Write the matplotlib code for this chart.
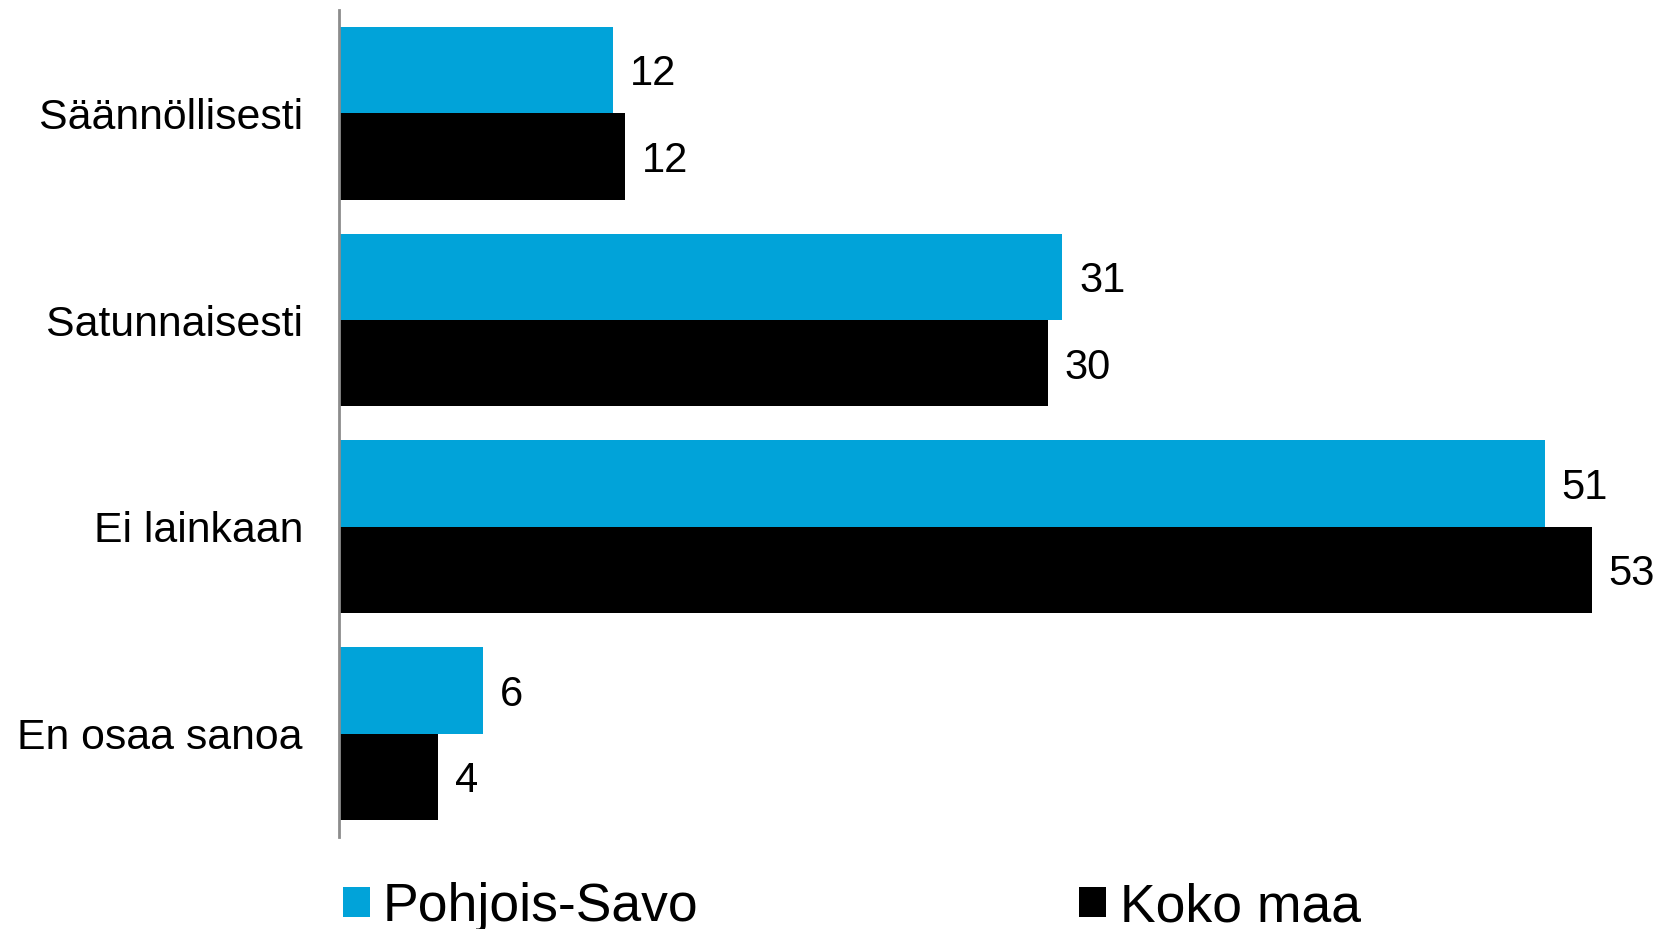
import matplotlib
matplotlib.use("Agg")
import matplotlib.pyplot as plt
import numpy as np

plt.rcParams['font.family'] = ['Liberation Sans', 'DejaVu Sans']

categories = ["Säännöllisesti", "Satunnaisesti", "Ei lainkaan", "En osaa sanoa"]
series_names = ["Pohjois-Savo", "Koko maa"]
pohjois_savo = [11.6, 30.6, 51.0, 6.1]
koko_maa = [12.1, 30.0, 53.0, 4.2]
labels_ps = ["12", "31", "51", "6"]
labels_km = ["12", "30", "53", "4"]

blue = "#01a3d9"
black = "#000000"

fig = plt.figure(figsize=(16.6, 9.291), dpi=100)
ax = fig.add_axes([339/1660, (929-837)/929, 1 - 339/1660, (837-10)/929])

y = np.arange(len(categories))
h = 0.418
b1 = ax.barh(y - h/2, pohjois_savo, height=h, color=blue, label=series_names[0])
b2 = ax.barh(y + h/2, koko_maa, height=h, color=black, label=series_names[1])

for bars, labs in ((b1, labels_ps), (b2, labels_km)):
    for t in ax.bar_label(bars, labels=labs, padding=12, fontsize=30):
        t.set_va('center')
        x0, y0 = t.xyann
        t.xyann = (x0, -3)

ax.set_ylim(3.5, -0.5)
ax.set_xlim(0, (1660-339)/23.64)
ax.set_yticks(y)
ax.set_yticklabels(categories, fontsize=30.8)
ax.tick_params(axis='y', length=0, pad=26)
ax.set_xticks([])
for s in ['top', 'right', 'bottom']:
    ax.spines[s].set_visible(False)
ax.spines['left'].set_color('#8c8c8c')
ax.spines['left'].set_linewidth(2)

leg = fig.legend(handles=[b1, b2], labels=series_names, loc='upper left',
                 bbox_to_anchor=(343/1660, 1 - 882/929), ncol=2, frameon=False,
                 fontsize=38.5, handlelength=0.5, handleheight=0.5,
                 handletextpad=0.25, columnspacing=7.12, borderpad=0,
                 borderaxespad=0)

fig.savefig("out.png", dpi=100)
